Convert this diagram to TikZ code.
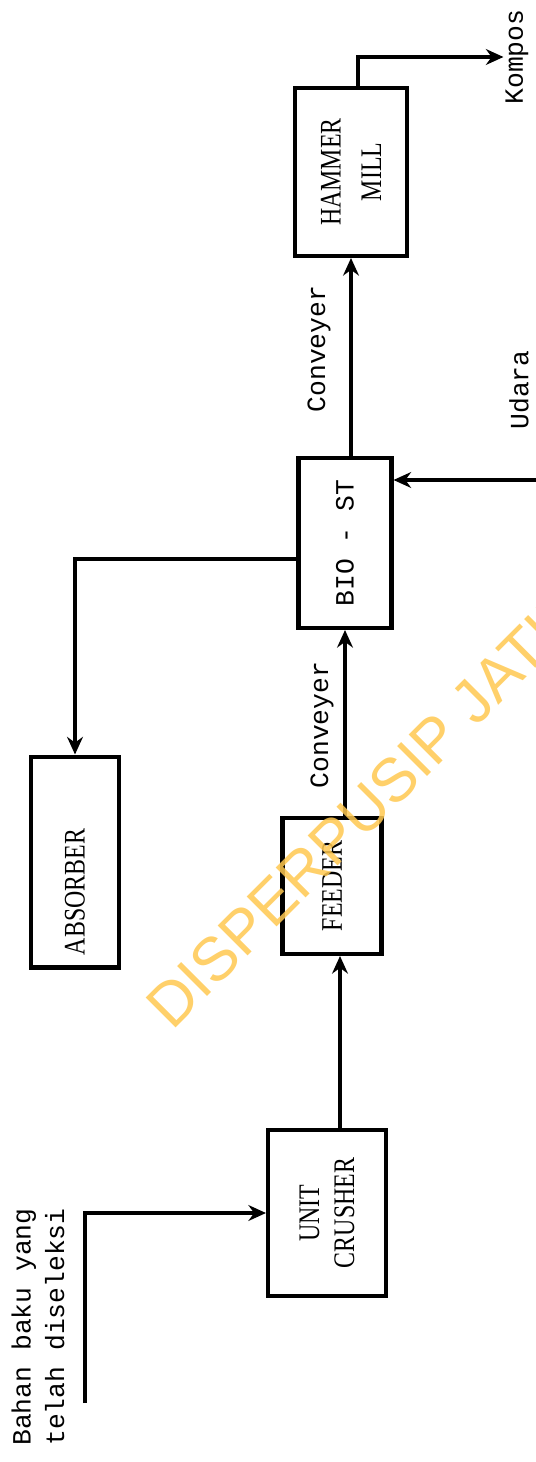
\documentclass[tikz,border=0pt]{standalone}
\usepackage{fontspec}
\setmonofont{Liberation Mono}
\newfontfamily\stencil[FakeStretch=0.8]{Liberation Serif}
\newfontfamily\wmfont{Liberation Sans}
\usetikzlibrary{arrows.meta, positioning, calc}
\definecolor{stamp}{RGB}{255,200,80}

\begin{document}
\begin{tikzpicture}[x=0.02cm, y=-0.02cm,
    box/.style={draw, line width=2.3pt, rotate=90, inner sep=0pt, align=center, font=\stencil\fontsize{17}{20}\selectfont},
    label/.style={rotate=90, inner sep=1pt, align=left, font=\ttfamily\fontsize{15}{19}\selectfont},
    arrow/.style={-{Stealth[length=10pt,width=9pt]}, line width=1.9pt}
]
    \useasboundingbox (0,0) rectangle (536,1462);
    \clip (0,0) rectangle (536,1462);

    \node[box, minimum width=3.32cm, minimum height=2.36cm] (crusher) at (327,1213) {UNIT\\CRUSHER};
    \node[box, minimum width=2.72cm, minimum height=1.98cm] (feeder) at (332,886) {FEEDER};
    \node[box, minimum width=4.22cm, minimum height=1.76cm] (absorber) at (75,862) {ABSORBER\hspace*{1.2cm}};
    \node[box, minimum width=3.4cm, minimum height=1.86cm, font=\ttfamily\fontsize{15}{19}\selectfont] (bio) at (345,543) {BIO - ST};
    \node[box, minimum width=3.36cm, minimum height=2.24cm, font=\stencil\fontsize{17}{23}\selectfont] (hammer) at (351,172) {HAMMER\\MILL};

    \node[label] (bahan) at (38,1327) {Bahan baku yang\\telah diseleksi};
    \node[label] (conv1) at (322,725) {Conveyer};
    \node[label] (conv2) at (319,349) {Conveyer};
    \node[label] (udara) at (519,390) {Udara};
    \node[label] (kompos) at (517,57) {Kompos};

    \coordinate (inlet) at (85,1403);
    \coordinate (air) at (536,480);

    \draw[arrow] (inlet) |- (crusher.north);
    \draw[arrow] ($(crusher.east -| feeder.west)+(8,0)$) -- ($(feeder.west)+(8,0)$);
    \draw[arrow] (feeder.east -| bio.west) -- (bio.west);
    \draw[arrow] ($(bio.north)+(0,16)$) -| (absorber.east);
    \draw[arrow] (air) -- (air -| bio.south);
    \draw[arrow] (bio.east -| hammer.west) -- (hammer.west);
    \draw[arrow] ($(hammer.east)+(7,0)$) |- (kompos.north);

    \node[rotate=45, anchor=base west, inner sep=0pt, text=stamp, opacity=0.85, font=\wmfont\fontsize{35}{35}\selectfont] (watermark) at (172,1032) {DISPERPUSIP JATIM};
\end{tikzpicture}
\end{document}
